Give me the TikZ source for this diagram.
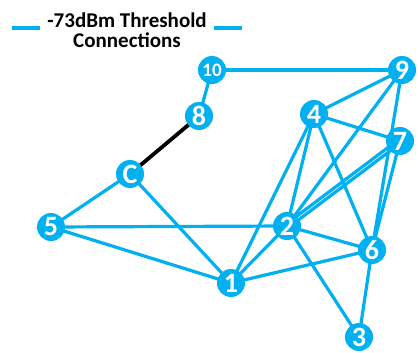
\documentclass[tikz,border=0pt]{standalone}
\usepackage{fontspec}
\setmainfont{Carlito}
\usetikzlibrary{backgrounds}
\definecolor{nodeblue}{RGB}{0,176,240}
\begin{document}
\begin{tikzpicture}[x=1pt,y=-1pt,
  vtx/.style={circle,fill=nodeblue,minimum size=28pt,inner sep=0pt,text=white,font=\bfseries\fontsize{28}{28}\selectfont},
  vtxs/.style={vtx,font=\bfseries\fontsize{19}{19}\selectfont},
  link/.style={draw=nodeblue,line width=3.2pt},
  blk/.style={draw=black,line width=3.8pt}]
\useasboundingbox (0,0) rectangle (418,353);
\node[font=\bfseries\fontsize{21}{20}\selectfont,align=center] (title) at (127,30) {-73dBm Threshold\\Connections};
\coordinate (la) at (12,28); \coordinate (lb) at (40,28);
\coordinate (ra) at (214,28); \coordinate (rb) at (242,28);
\draw[link] (la) -- (lb);
\draw[link] (ra) -- (rb);
\node[vtxs] (n10) at (212,70) {10};
\node[vtx] (n9) at (402,70) {9};
\node[vtx] (n8) at (199,116) {8};
\node[vtx] (n4) at (314,114) {4};
\node[vtx] (n7) at (400,141) {7};
\node[vtx] (nC) at (130,174) {C};
\node[vtx] (n5) at (51,227) {5};
\node[vtx] (n2) at (287,226) {2};
\node[vtx] (n6) at (372,250) {6};
\node[vtx] (n1) at (231,283) {1};
\node[vtx] (n3) at (359,337) {3};
\begin{scope}[on background layer]
\draw[link] (n10.center) -- (n9.center);
\draw[link] (n10.center) -- (n8.center);
\draw[blk] (n8.center) -- (nC.center);
\draw[link] (nC.center) -- (n5.center);
\draw[link] (nC.center) -- (n1.center);
\draw[link] (n5.center) -- (n2.center);
\draw[link] (n5.center) -- (n1.center);
\draw[link] (n1.center) -- (n2.center);
\draw[link] (n1.center) -- (n6.center);
\draw[link] (n1.center) -- (n4.center);
\draw[link] (n2.center) -- (n4.center);
\draw[link] (n2.center) -- (n9.center);
\draw[link] ([yshift=-2.5pt]n2.center) -- ([yshift=-2.5pt]n7.center);
\draw[link] ([yshift=2.5pt]n2.center) -- ([yshift=2.5pt]n7.center);
\draw[link] (n2.center) -- (n6.center);
\draw[link] (n2.center) -- (n3.center);
\draw[link] (n4.center) -- (n9.center);
\draw[link] (n4.center) -- (n7.center);
\draw[link] (n4.center) -- (n6.center);
\draw[link] (n9.center) -- (n6.center);
\draw[link] (n7.center) -- (n6.center);
\draw[link] (n6.center) -- (n3.center);
\end{scope}
\end{tikzpicture}
\end{document}
